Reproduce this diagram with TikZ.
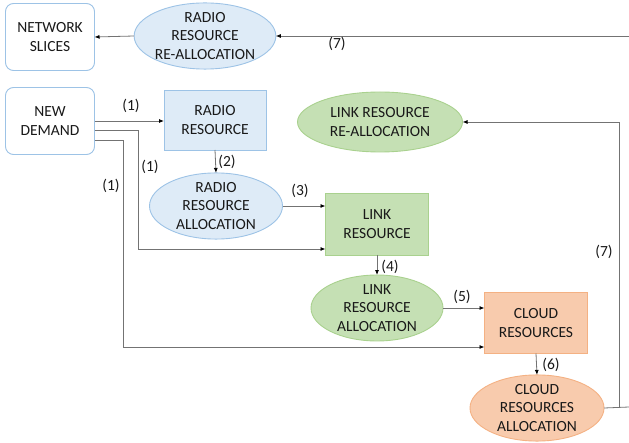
\documentclass[tikz,border=0pt]{standalone}
\usepackage{fontspec}
\setmainfont{Carlito}
\usetikzlibrary{arrows.meta,shapes.geometric}

\definecolor{bluefill}{HTML}{DEEBF7}
\definecolor{blueline}{HTML}{9DC3E6}
\definecolor{greenfill}{HTML}{C5E0B4}
\definecolor{greenline}{HTML}{A9D18E}
\definecolor{orangefill}{HTML}{F8CBAD}
\definecolor{orangeline}{HTML}{F4B183}
\definecolor{wire}{HTML}{737373}

\begin{document}
\begin{tikzpicture}[x=1pt, y=-1pt]
\tikzset{ >={Latex[length=5pt,width=4pt,black]},
  every node/.style={font=\fontsize{15.5}{18.3}\selectfont, text=black!90, align=center, inner sep=0pt, outer sep=0pt},
  rbox/.style={draw=blueline, line width=0.9pt, rounded corners=8pt, fill=white},
  sbox/.style={draw=#1line, fill=#1fill, line width=0.9pt},
  obox/.style={ellipse, draw=#1line, fill=#1fill, line width=0.9pt},
  wire/.style={draw=wire, line width=0.8pt},
}

\useasboundingbox (0,0) rectangle (629,443);

% boxes
\node [rbox, minimum width=89pt, minimum height=67pt] (NS) at (50,37) {NETWORK\\SLICES};
\node [rbox, minimum width=89pt, minimum height=67pt] (ND) at (50,121) {NEW\\DEMAND};

\node [sbox=blue,   minimum width=102pt, minimum height=60pt] (RR) at (215,120) {RADIO\\RESOURCE};
\node [sbox=green,  minimum width=103pt, minimum height=62pt] (LR) at (377,224) {LINK\\RESOURCE};
\node [sbox=orange, minimum width=103pt, minimum height=61pt] (CR) at (536,323) {CLOUD\\RESOURCES};

% ellipses
\node [obox=blue,   minimum width=136pt, minimum height=63pt] (RRR) at (205,36)  {RADIO\\RESOURCE\\RE-ALLOCATION};
\node [obox=blue,   minimum width=133pt, minimum height=63pt] (RRA) at (216,206) {RADIO\\RESOURCE\\ALLOCATION};
\node [obox=green,  minimum width=165pt, minimum height=60pt] (LRR) at (380,122) {LINK RESOURCE\\RE-ALLOCATION};
\node [obox=green,  minimum width=132pt, minimum height=63pt] (LRA) at (377,308) {LINK\\RESOURCE\\ALLOCATION};
\node [obox=orange, minimum width=134pt, minimum height=63pt] (CRA) at (537,408) {CLOUD\\RESOURCES\\ALLOCATION};

% free ends
\coordinate (TE) at (629,36);
\coordinate (BE) at (629,407);
\coordinate (J)  at (619,407);

% connectors
\draw [wire, ->] (ND.east) -- (ND.east -| RR.west);
\draw [wire, ->] ([yshift=-9pt]ND.east) -- ++(44,0) |- ([yshift=-25pt]LR.west);
\draw [wire, ->] ([yshift=-19pt]ND.east) -- ++(29,0) |- ([yshift=-24pt]CR.west);

\draw [wire, ->] (RR.south) -- (RRA.north);
\draw [wire, ->] (RRA.east) -- (RRA.east -| LR.west);
\draw [wire, ->] (LR.south) -- (LRA.north);
\draw [wire, ->] (LRA.east) -- (LRA.east -| CR.west);
\draw [wire, ->] (CR.south) -- (CRA.north);

\draw [wire] (CRA.east) -- (BE);
\draw [wire, ->] (J) |- (LRR.east);
\draw [wire, ->] (TE) -- (RRR.east);
\draw [wire, ->] (RRR.west) -- (NS.east);

% labels
\node at (131,106) {(1)};
\node at (150,167) {(1)};
\node at (111,186) {(1)};
\node at (227,162) {(2)};
\node at (300,191) {(3)};
\node at (390,267) {(4)};
\node at (462,297) {(5)};
\node at (551,365) {(6)};
\node at (337,44)  {(7)};
\node at (604,252) {(7)};
\end{tikzpicture}
\end{document}
